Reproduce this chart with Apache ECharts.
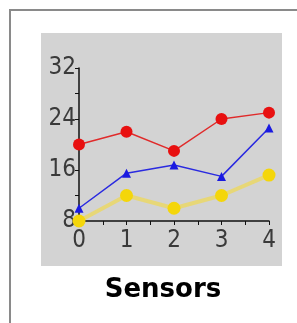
<!DOCTYPE html>
<html><head><meta charset="utf-8">
<script src="https://cdn.jsdelivr.net/npm/echarts@6/dist/echarts.min.js"></script>
<style>html,body{margin:0;padding:0;background:#fff}#c{width:297px;height:323px}</style>
</head><body><div id="c"></div>
<script>
const xValues = [0, 1, 2, 3, 4];
const redValues = [20, 22, 19, 24, 25];
const blueValues = [10, 15.5, 16.8, 15, 22.6];
const yellowValues = [8, 12, 10, 12, 15.2];
const yTicks = [8, 16, 24, 32];
const title = 'Sensors';

const labelFont = '"Liberation Sans Narrow", "DejaVu Sans Condensed", "Liberation Sans", sans-serif';
const chart = echarts.init(document.getElementById('c'));
const pts = v => xValues.map((x, i) => [x, v[i]]);
chart.setOption({
  animation: false,
  graphic: [
    { type: 'rect', shape: { x: 10, y: 10, width: 300, height: 330 }, style: { fill: 'none', stroke: '#8a8a8a', lineWidth: 2 }, z: -10 },
    { type: 'rect', shape: { x: 41, y: 33, width: 241, height: 233 }, style: { fill: '#d3d3d3' }, z: -10 },
    { type: 'text', x: 163, y: 290, style: { text: title, font: 'bold 26px "DejaVu Sans"', fill: '#000', textAlign: 'center', textVerticalAlign: 'middle' }, z: 10 }
  ],
  grid: { left: 79, right: 28, top: 68, bottom: 102 },
  xAxis: {
    type: 'value', min: 0, max: 4, interval: 1,
    axisLine: { lineStyle: { color: '#111', width: 1.5 } },
    axisTick: { show: true, length: 4, lineStyle: { color: '#111' } },
    minorTick: { show: true, splitNumber: 2, length: 4, lineStyle: { color: '#111' } },
    splitLine: { show: false },
    axisLabel: { color: '#3a3a3a', fontFamily: labelFont, fontSize: 24, margin: 8 }
  },
  yAxis: {
    type: 'value', min: yTicks[0], max: yTicks[yTicks.length - 1], interval: 8,
    axisLine: { show: true, lineStyle: { color: '#111', width: 1.5 } },
    axisTick: { show: true, length: 4, lineStyle: { color: '#111' } },
    minorTick: { show: true, splitNumber: 2, length: 4, lineStyle: { color: '#111' } },
    splitLine: { show: false },
    axisLabel: { color: '#3a3a3a', fontFamily: labelFont, fontSize: 24, margin: 3 }
  },
  series: [
    { type: 'line', data: pts(yellowValues), symbol: 'circle', symbolSize: 13,
      itemStyle: { color: '#f4d60a' }, lineStyle: { color: '#ecd860', width: 4, opacity: 0.8 }, z: 2 },
    { type: 'line', data: pts(blueValues), symbol: 'triangle', symbolSize: 9,
      itemStyle: { color: '#1a1ae0' }, lineStyle: { color: '#2a2ae0', width: 1.5 }, z: 3 },
    { type: 'line', data: pts(redValues), symbol: 'circle', symbolSize: 12,
      itemStyle: { color: '#e81010' }, lineStyle: { color: '#e02a2a', width: 1.5 }, z: 4 }
  ]
});
</script></body></html>
